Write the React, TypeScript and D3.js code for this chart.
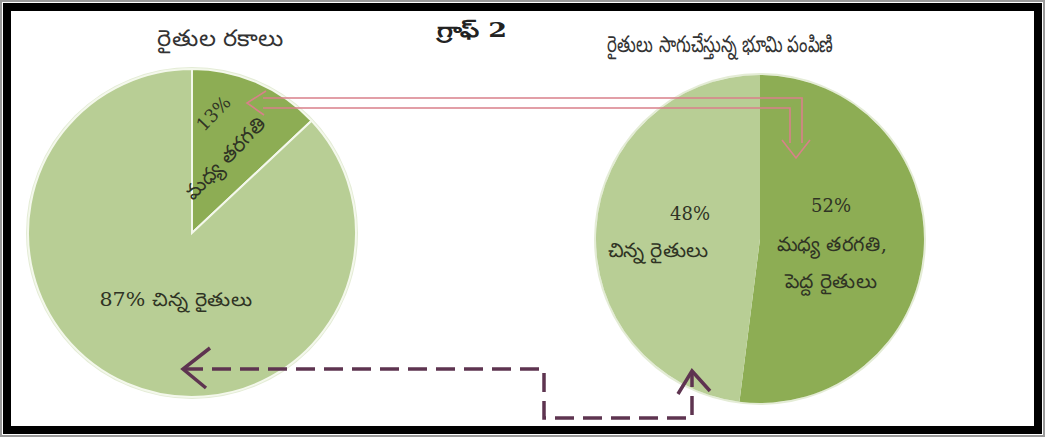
import React from "react";
import * as d3 from "d3";

const leftTitle = "రైతుల రకాలు";
const rightTitle = "రైతులు సాగుచేస్తున్న భూమి పంపిణి";
const graphTitle = "గ్రాఫ్ 2";

const leftCategories = ["మధ్య తరగతి", "చిన్న రైతులు"];
const leftValues = [13, 87];

const rightCategories = ["మధ్య తరగతి, పెద్ద రైతులు", "చిన్న రైతులు"];
const rightValues = [52, 48];

const W = 1045;
const H = 437;
const LIGHT = "#b8ce95";
const DARK = "#8dad54";
const TEXT = "#2f3324";
const FONT = "'DejaVu Serif', 'Liberation Serif', serif";

export default function App() {
  const pie = d3
    .pie<number>()
    .sort(null)
    .value((d) => d);
  const r = 164;
  const arc = d3.arc<d3.PieArcDatum<number>>().innerRadius(0).outerRadius(r);

  const leftArcs = pie(leftValues);
  const rightArcs = pie(rightValues);
  const colors = [DARK, LIGHT];

  const lc = { x: 192, y: 233 };
  const rc = { x: 760, y: 239 };

  const pinkOuter = d3.line()([
    [263, 98],
    [802, 98],
    [802, 143],
  ]);
  const pinkInner = d3.line()([
    [263, 108],
    [790, 108],
    [790, 143],
  ]);
  const purple = d3.line()([
    [184, 369],
    [544, 369],
    [544, 418],
    [692, 418],
    [692, 374],
  ]);

  return (
    <svg
      width={W}
      height={H}
      style={{ position: "absolute", left: 0, top: 0, background: "#fff" }}
      fontFamily={FONT}
    >
      <rect x={0} y={0} width={W} height={H} fill="#fff" />
      <rect x={1} y={1} width={W - 2} height={H - 2} fill="none" stroke="#9a9a9a" strokeWidth={2} />
      <rect x={7} y={7} width={W - 14} height={H - 14} fill="none" stroke="#000" strokeWidth={8} />

      {/* titles */}
      <text x={220} y={46} textAnchor="middle" fontSize={23} fill="#333" textLength={126} lengthAdjust="spacingAndGlyphs">
        {leftTitle}
      </text>
      <text x={472} y={37} textAnchor="middle" fontSize={20} fontWeight="bold" fill="#222" textLength={70} lengthAdjust="spacingAndGlyphs">
        {graphTitle}
      </text>
      <text x={720} y={52} textAnchor="middle" fontSize={23} fill="#333" textLength={226} lengthAdjust="spacingAndGlyphs">
        {rightTitle}
      </text>

      {/* left pie */}
      <g transform={`translate(${lc.x},${lc.y})`}>
        <circle r={r + 1} fill="none" stroke="#e4ecd6" strokeWidth={2} />
        {leftArcs.map((a, i) => (
          <path key={i} d={arc(a) || ""} fill={colors[i]} stroke="#f4f8ec" strokeWidth={2} />
        ))}
        <g transform="translate(38,-70) rotate(-46)">
          <text x={0} y={0} textAnchor="middle" fontSize={20} fill={TEXT}>
            {leftCategories[0]}
          </text>
          <text x={24} y={-40} textAnchor="middle" fontSize={18} fill={TEXT}>
            {leftValues[0]}%
          </text>
        </g>
        <text x={-16} y={73} textAnchor="middle" fontSize={19} fill={TEXT} textLength={153} lengthAdjust="spacingAndGlyphs">
          {leftValues[1]}% {leftCategories[1]}
        </text>
      </g>

      {/* right pie */}
      <g transform={`translate(${rc.x},${rc.y})`}>
        <circle r={r + 1} fill="none" stroke="#e4ecd6" strokeWidth={2} />
        {rightArcs.map((a, i) => (
          <path key={i} d={arc(a) || ""} fill={colors[i]} />
        ))}
        <text x={71} y={-27} textAnchor="middle" fontSize={18} fill={TEXT}>
          {rightValues[0]}%
        </text>
        <text x={72} y={12} textAnchor="middle" fontSize={20} fill={TEXT} textLength={110} lengthAdjust="spacingAndGlyphs">
          {rightCategories[0].split(" ").slice(0, 2).join(" ")}
        </text>
        <text x={71} y={49} textAnchor="middle" fontSize={20} fill={TEXT} textLength={92} lengthAdjust="spacingAndGlyphs">
          {rightCategories[0].split(" ").slice(2).join(" ")}
        </text>
        <text x={-70} y={-19} textAnchor="middle" fontSize={18} fill={TEXT}>
          {rightValues[1]}%
        </text>
        <text x={-102} y={18} textAnchor="middle" fontSize={20} fill={TEXT} textLength={100} lengthAdjust="spacingAndGlyphs">
          {rightCategories[1]}
        </text>
      </g>

      {/* pink hollow arrow */}
      <g fill="none" stroke="#d9808a" strokeWidth={1.6}>
        <path d={pinkOuter || ""} />
        <path d={pinkInner || ""} />
        <path d={d3.line()([[266, 91], [247, 103], [264, 115]]) || ""} />
        <path d={d3.line()([[782, 140], [796, 158], [810, 140]]) || ""} />
      </g>

      {/* purple dashed arrow */}
      <g fill="none" stroke="#5e3450" strokeWidth={3.5} strokeLinecap="butt">
        <path d={purple || ""} strokeDasharray="19 9" />
        <path d={d3.line()([[210, 348], [183, 369], [206, 388]]) || ""} />
        <path d={d3.line()([[678, 394], [692, 371], [710, 391]]) || ""} />
      </g>
    </svg>
  );
}
